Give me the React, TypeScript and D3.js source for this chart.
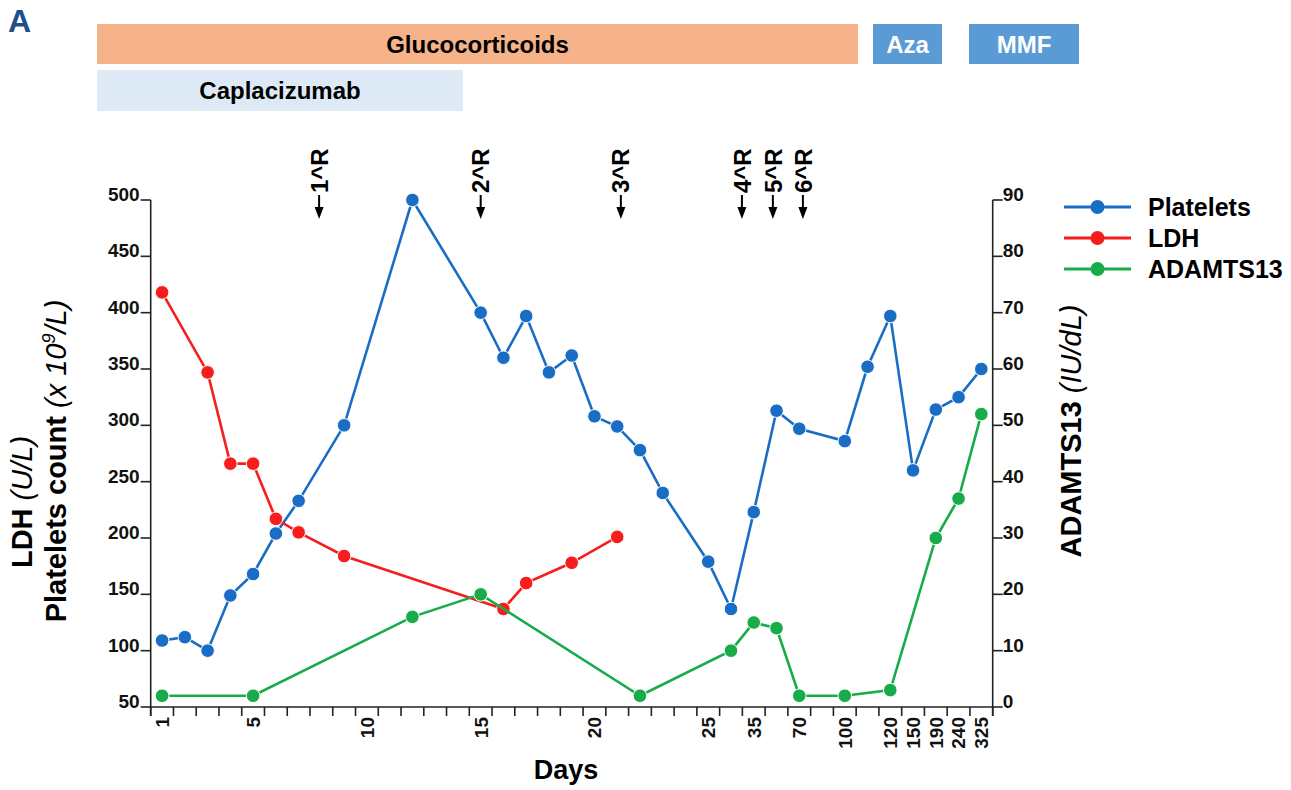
import React from "react";
import * as d3 from "d3";

// x slots: days 1..25 one per slot, then compressed later days
const slots = [
  "1", "2", "3", "4", "5", "6", "7", "8", "9", "10", "11", "12", "13", "14", "15",
  "16", "17", "18", "19", "20", "21", "22", "23", "24", "25", "25+", "35", "35+",
  "70", "70+", "100", "100+", "120", "150", "190", "240", "325",
];
const xTickLabels = ["1", "5", "10", "15", "20", "25", "35", "70", "100", "120", "150", "190", "240", "325"];
const leftTicks = [50, 100, 150, 200, 250, 300, 350, 400, 450, 500];
const rightTicks = [0, 10, 20, 30, 40, 50, 60, 70, 80, 90];

const platelets: [string, number][] = [
  ["1", 109], ["2", 112], ["3", 100], ["4", 149], ["5", 168], ["6", 204], ["7", 233],
  ["9", 300], ["12", 500], ["15", 400], ["16", 360], ["17", 397], ["18", 347], ["19", 362],
  ["20", 308], ["21", 299], ["22", 278], ["23", 240], ["25", 179], ["25+", 137], ["35", 223],
  ["35+", 313], ["70", 297], ["100", 286], ["100+", 352], ["120", 397], ["150", 260],
  ["190", 314], ["240", 325], ["325", 350],
];
const ldh: [string, number][] = [
  ["1", 418], ["3", 347], ["4", 266], ["5", 266], ["6", 217], ["7", 205], ["9", 184],
  ["16", 137], ["17", 160], ["19", 178], ["21", 201],
];
const adamts13: [string, number][] = [
  ["1", 2], ["5", 2], ["12", 16], ["15", 20], ["22", 2], ["25+", 10], ["35", 15],
  ["35+", 14], ["70", 2], ["100", 2], ["120", 3], ["190", 30], ["240", 37], ["325", 52],
];

// rituximab doses, position in slot units
const releaseLabels = ["1^R", "2^R", "3^R", "4^R", "5^R", "6^R"];
const releaseSlots = [6.9, 14.0, 20.16, 25.48, 26.84, 28.16];

const treatmentNames = ["Glucocorticoids", "Aza", "MMF", "Caplacizumab"];

const seriesNames = ["Platelets", "LDH", "ADAMTS13"];
const colors = ["#1a6dc4", "#f71d1d", "#17ab4a"];

const FONT = "'Liberation Sans', Arial, sans-serif";

export default function App() {
  const W = 1291, H = 790;
  const left = 150.7, right = 992.7, top = 200, bottom = 707;

  const x = d3.scaleBand<string>().domain(slots).range([left, right]);
  const bw = x.bandwidth();
  const cx = (s: string) => (x(s) as number) + bw / 2;
  const xi = (i: number) => left + (i + 0.5) * bw;
  const yL = d3.scaleLinear().domain([50, 500]).range([bottom, top]);
  const yR = d3.scaleLinear().domain([0, 90]).range([bottom, top]);

  const lineL = d3.line<[string, number]>().x(d => cx(d[0])).y(d => yL(d[1]));
  const lineR = d3.line<[string, number]>().x(d => cx(d[0])).y(d => yR(d[1]));

  const series = [
    { data: platelets, line: lineL, y: yL },
    { data: ldh, line: lineL, y: yL },
    { data: adamts13, line: lineR, y: yR },
  ];

  const edges = slots.map(s => x(s) as number).concat([right]);

  // bar layout (pixels) for treatments
  const barBoxes = [
    { x0: 97, x1: 858, y0: 24, y1: 64, fill: "#f6b389", text: "#000" },
    { x0: 873, x1: 942, y0: 24, y1: 64, fill: "#5b9bd5", text: "#fff" },
    { x0: 969, x1: 1079, y0: 24, y1: 64, fill: "#5b9bd5", text: "#fff" },
    { x0: 97, x1: 463, y0: 70, y1: 111, fill: "#ddeaf6", text: "#000" },
  ];

  return (
    <svg width={W} height={H} style={{ position: "absolute", left: 0, top: 0, background: "#fff" }}
      fontFamily={FONT}>
      <text x={8} y={32} fontSize={32} fontWeight="bold" fill="#1f4e8a">A</text>

      {treatmentNames.map((name, i) => {
        const b = barBoxes[i];
        return (
          <g key={name}>
            <rect x={b.x0} y={b.y0} width={b.x1 - b.x0} height={b.y1 - b.y0} fill={b.fill} />
            <text x={(b.x0 + b.x1) / 2} y={(b.y0 + b.y1) / 2} dy="0.36em" textAnchor="middle"
              fontSize={24} fontWeight="bold" fill={b.text}>{name}</text>
          </g>
        );
      })}

      {/* rituximab arrows */}
      {releaseLabels.map((lab, i) => {
        const px = xi(releaseSlots[i]);
        return (
          <g key={lab}>
            <text transform={`translate(${px},193) rotate(-90)`} dy="0.36em" fontSize={24}
              fontWeight="bold" fill="#000">{lab}</text>
            <line x1={px} x2={px} y1={195} y2={209} stroke="#000" strokeWidth={2} />
            <path d={`M${px - 4.5},207 L${px + 4.5},207 L${px},219 Z`} fill="#000" />
          </g>
        );
      })}

      {/* axes */}
      <g stroke="#222" strokeWidth={1.6} fill="none">
        <line x1={left} x2={left} y1={top} y2={bottom + 9} />
        <line x1={right} x2={right} y1={top} y2={bottom + 9} />
        <line x1={left} x2={right} y1={bottom} y2={bottom} />
        {edges.map((e, i) => <line key={i} x1={e} x2={e} y1={bottom} y2={bottom + 9} />)}
        {leftTicks.map(t => <line key={t} x1={left - 10} x2={left} y1={yL(t)} y2={yL(t)} />)}
        {rightTicks.map(t => <line key={t} x1={right} x2={right + 10} y1={yR(t)} y2={yR(t)} />)}
      </g>
      <g fontSize={19} fontWeight="bold" fill="#111">
        {leftTicks.map(t => (
          <text key={t} x={left - 11} y={yL(t) + 1} textAnchor="end">{t}</text>
        ))}
        {rightTicks.map(t => (
          <text key={t} x={right + 10} y={yR(t) + 1}>{t}</text>
        ))}
        {xTickLabels.map(l => (
          <text key={l} transform={`translate(${cx(l)},${bottom + 10}) rotate(-90)`} dy="0.36em"
            textAnchor="end">{l}</text>
        ))}
      </g>

      {/* axis titles */}
      <text x={566} y={779} textAnchor="middle" fontSize={27} fontWeight="bold">Days</text>
      <text transform="translate(32,502) rotate(-90)" textAnchor="middle" fontSize={29}>
        <tspan fontWeight="bold">LDH </tspan><tspan fontStyle="italic">(U/L)</tspan>
      </text>
      <text transform="translate(66,461) rotate(-90)" textAnchor="middle" fontSize={29}>
        <tspan fontWeight="bold">Platelets count </tspan>
        <tspan fontStyle="italic">(x 10</tspan>
        <tspan fontStyle="italic" fontSize={18} dy={-11}>9</tspan>
        <tspan fontStyle="italic" dy={11}>/L)</tspan>
      </text>
      <text transform="translate(1081,431) rotate(-90)" textAnchor="middle" fontSize={29}>
        <tspan fontWeight="bold">ADAMTS13 </tspan><tspan fontStyle="italic">(IU/dL)</tspan>
      </text>

      {/* series */}
      {series.map((s, i) => (
        <g key={seriesNames[i]}>
          <path d={s.line(s.data) as string} fill="none" stroke={colors[i]} strokeWidth={2.6} />
          {s.data.map(d => (
            <circle key={d[0]} cx={cx(d[0])} cy={s.y(d[1])} r={6.8} fill={colors[i]}
              stroke="#fff" strokeWidth={1} />
          ))}
        </g>
      ))}

      {/* legend */}
      {seriesNames.map((n, i) => {
        const ly = 207 + i * 31;
        return (
          <g key={n}>
            <line x1={1064} x2={1131} y1={ly} y2={ly} stroke={colors[i]} strokeWidth={3} />
            <circle cx={1097.5} cy={ly} r={7} fill={colors[i]} />
            <text x={1148} y={ly} dy="0.36em" fontSize={25} fontWeight="bold">{n}</text>
          </g>
        );
      })}
    </svg>
  );
}
